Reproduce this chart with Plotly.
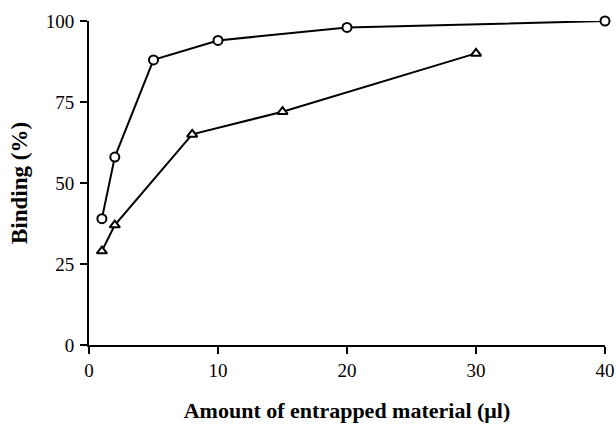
import plotly.graph_objects as go

x_circles = [1, 2, 5, 10, 20, 40]
y_circles = [39, 58, 88, 94, 98, 100]
x_triangles = [1, 2, 8, 15, 30]
y_triangles = [29, 37, 65, 72, 90]
x_ticks = [0, 10, 20, 30, 40]
y_ticks = [0, 25, 50, 75, 100]

font_family = "Liberation Serif"

fig = go.Figure()
fig.add_trace(go.Scatter(
    x=x_circles, y=y_circles, mode="lines+markers",
    line=dict(color="black", width=2),
    marker=dict(symbol="circle", size=9, color="white", line=dict(color="black", width=2)),
    cliponaxis=False, showlegend=False))
fig.add_trace(go.Scatter(
    x=x_triangles, y=y_triangles, mode="lines+markers",
    line=dict(color="black", width=2),
    marker=dict(symbol="triangle-up", size=9, color="white", line=dict(color="black", width=2)),
    cliponaxis=False, showlegend=False))

fig.update_layout(
    width=616, height=424,
    margin=dict(l=89, r=11, t=21, b=79, autoexpand=False),
    paper_bgcolor="white", plot_bgcolor="white",
    font=dict(family=font_family, size=19, color="black"),
    xaxis=dict(range=[0, 40], tickvals=x_ticks, showgrid=False, zeroline=False,
               showline=True, linecolor="black", linewidth=2, automargin=False,
               ticks="outside", ticklen=7, tickwidth=2, tickcolor="black",
               ticklabeloverflow="allow",
               title=dict(text="<b>Amount of entrapped material (μl)</b>", standoff=23,
                          font=dict(size=22, family=font_family))),
    yaxis=dict(range=[0, 100], tickvals=y_ticks, showgrid=False, zeroline=False,
               showline=True, linecolor="black", linewidth=2, automargin=False,
               ticks="outside", ticklen=7, tickwidth=2, tickcolor="black",
               ticklabelstandoff=2, ticklabeloverflow="allow",
               title=dict(text="<b>Binding (%)</b>", standoff=12,
                          font=dict(size=23, family=font_family))),
)

fig.write_html("out.html")
